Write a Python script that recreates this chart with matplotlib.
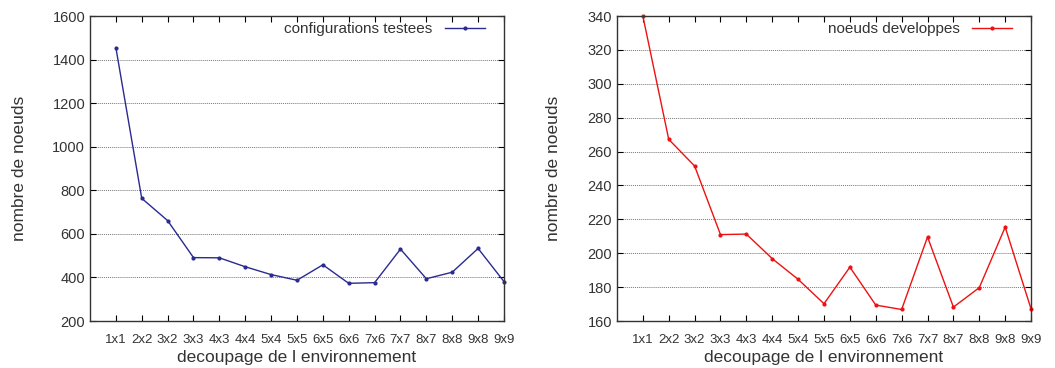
import matplotlib
matplotlib.use("Agg")
import matplotlib.pyplot as plt

plt.rcParams['font.family'] = ['Liberation Sans', 'DejaVu Sans']

categories = ["1x1", "2x2", "3x2", "3x3", "4x3", "4x4", "5x4", "5x5",
              "6x5", "6x6", "7x6", "7x7", "8x7", "8x8", "9x8", "9x9"]
configs = [1455, 763, 661, 491, 490, 449, 413, 387,
           458, 373, 376, 530, 394, 424, 533, 381]
noeuds = [340, 267.2, 251.5, 211, 211.3, 196.8, 184.6, 170.2,
          191.8, 169.4, 166.8, 209.6, 168.2, 179.7, 215.4, 167.1]

x = list(range(len(categories)))

fig = plt.figure(figsize=(10.55, 3.68), dpi=100)
ax1 = fig.add_axes([0.0853, 0.1277, 0.3924, 0.8288])
ax2 = fig.add_axes([0.5848, 0.1277, 0.3925, 0.8288])

panels = [
    (ax1, configs, '#2a2a90', "configurations testees", (200, 1600), range(200, 1601, 200)),
    (ax2, noeuds, '#ee1111', "noeuds developpes", (160, 340), range(160, 341, 20)),
]

for ax, vals, col, lab, ylim, yt in panels:
    ax.plot(x, vals, color=col, lw=1.0, marker='o', ms=2, label=lab, clip_on=False)
    ax.set_xlim(-1, 15)
    ax.set_ylim(*ylim)
    ax.set_yticks(list(yt))
    ax.set_xticks(x)
    ax.set_xticklabels(categories, fontsize=9.5, color='#333333')
    ax.tick_params(axis='y', labelsize=10.5, labelcolor='#333333')
    ax.tick_params(direction='in', top=True, right=True, length=4, width=0.8)
    ax.tick_params(axis='x', pad=9)
    ax.grid(axis='y', linestyle=(0, (1, 1)), color='#777777', lw=0.7)
    for s in ax.spines.values():
        s.set_linewidth(1.0)
        s.set_color('#333333')
    ax.set_xlabel("decoupage de l environnement", fontsize=12.5, color='#333333', labelpad=3)
    ax.set_ylabel("nombre de noeuds", fontsize=12.5, color='#333333')
    leg = ax.legend(loc='upper right', bbox_to_anchor=(0.968, 1.0), frameon=False,
                    markerfirst=False, fontsize=11, handlelength=2.6, borderaxespad=0.0)
    for t in leg.get_texts():
        t.set_color('#333333')

ax1.yaxis.labelpad = 18
ax2.yaxis.labelpad = 19

fig.savefig("out.png", dpi=100)
